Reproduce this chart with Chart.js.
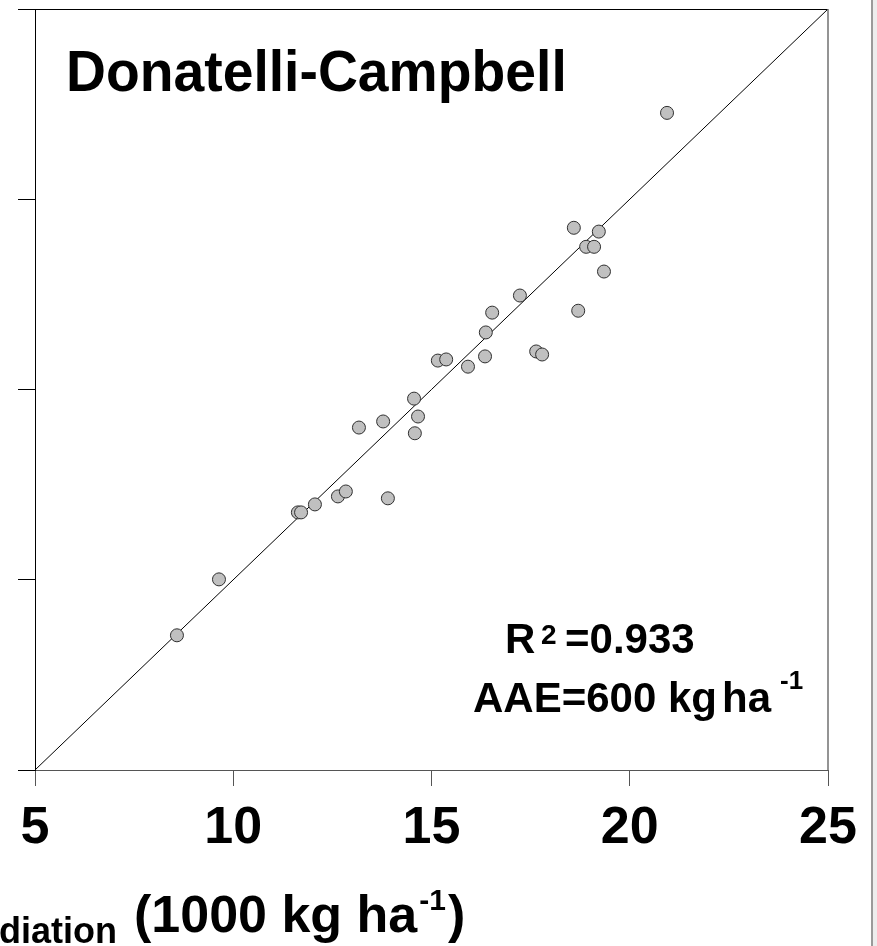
<!DOCTYPE html>
<html>
<head>
<meta charset="utf-8">
<script src="https://cdn.jsdelivr.net/npm/chart.js@4.4.1/dist/chart.umd.min.js"></script>
<style>
  html, body { margin: 0; padding: 0; background: #ffffff; }
  #wrap { width: 877px; height: 946px; position: relative; }
  canvas { display: block; }
</style>
</head>
<body>
<div id="wrap"><canvas id="c" width="877" height="946"></canvas></div>
<script>
// ---- data (1000 kg ha-1) ----
const xValues = [8.58, 9.64, 11.63, 11.71, 12.06, 12.64, 12.84, 13.90, 13.17, 13.78,
                 14.56, 14.66, 14.58, 15.16, 15.37, 15.92, 16.35, 16.37, 16.53, 17.23,
                 17.64, 17.79, 18.70, 18.59, 18.90, 19.10, 19.22, 19.35, 20.94];
const yValues = [8.54, 10.01, 11.77, 11.77, 11.98, 12.19, 12.32, 12.14, 14.00, 14.16,
                 14.76, 14.29, 13.85, 15.76, 15.79, 15.60, 15.87, 16.50, 17.02, 17.47,
                 16.00, 15.92, 17.07, 19.25, 18.75, 18.75, 19.15, 18.10, 22.27];
const lineX = [5, 25];
const lineY = [5, 25];
const xTickLabels = ['5', '10', '15', '20', '25'];
const axisMin = 5, axisMax = 25, axisStep = 5;
const titleText = 'Donatelli-Campbell';
const r2Text = '=0.933';
const aaeText = 'AAE=600 kg';
const xTitleSub = 'radiation';
const xTitleMain = '(1000 kg ha';

const FONT = '"Liberation Sans", Arial, Helvetica, sans-serif';

const points = xValues.map((x, i) => ({ x: x, y: yValues[i] }));
const linePts = lineX.map((x, i) => ({ x: x, y: lineY[i] }));

const decor = {
  id: 'decor',
  beforeDraw(chart) {
    const ctx = chart.ctx;
    ctx.save();
    ctx.fillStyle = '#ffffff';
    ctx.fillRect(0, 0, chart.width, chart.height);
    ctx.fillStyle = '#ededed';
    ctx.fillRect(873, 0, 4, chart.height);
    ctx.strokeStyle = '#9a9a9a';
    ctx.lineWidth = 2;
    ctx.beginPath();
    ctx.moveTo(872, 0);
    ctx.lineTo(872, chart.height);
    ctx.stroke();
    ctx.restore();
  },
  afterDraw(chart) {
    const ctx = chart.ctx;
    const a = chart.chartArea;
    ctx.save();
    // top and right frame
    ctx.strokeStyle = '#000000';
    ctx.lineWidth = 1;
    ctx.beginPath();
    ctx.moveTo(18, a.top + 0.5);
    ctx.lineTo(a.right, a.top + 0.5);
    ctx.stroke();
    ctx.strokeStyle = '#707070';
    ctx.lineWidth = 1.5;
    ctx.beginPath();
    ctx.moveTo(a.right, a.top);
    ctx.lineTo(a.right, a.bottom);
    ctx.stroke();

    ctx.fillStyle = '#000000';
    ctx.textBaseline = 'alphabetic';
    ctx.textAlign = 'left';
    // title
    ctx.save();
    ctx.translate(66, 91);
    ctx.scale(0.97, 1);
    ctx.font = 'bold 57px ' + FONT;
    ctx.fillText(titleText, 0, 0);
    ctx.restore();

    // R2
    ctx.font = 'bold 42px ' + FONT;
    ctx.fillText('R', 505, 653);
    ctx.font = 'bold 28px ' + FONT;
    ctx.fillText('2', 541, 644);
    ctx.font = 'bold 42px ' + FONT;
    ctx.fillText(r2Text, 565, 653);

    // AAE
    ctx.fillText(aaeText, 473, 712);
    ctx.fillText('ha', 722, 712);
    ctx.font = 'bold 26px ' + FONT;
    ctx.fillText('-1', 780, 689);

    // x title
    ctx.font = 'bold 36px ' + FONT;
    ctx.textAlign = 'right';
    ctx.fillText(xTitleSub, 117, 943);
    ctx.textAlign = 'left';
    ctx.font = 'bold 52px ' + FONT;
    ctx.fillText(xTitleMain, 134, 932);
    const w = ctx.measureText(xTitleMain).width;
    ctx.font = 'bold 30px ' + FONT;
    ctx.fillText('-1', 134 + w + 2, 910);
    const w2 = ctx.measureText('-1').width;
    ctx.font = 'bold 52px ' + FONT;
    ctx.fillText(')', 134 + w + w2 + 4, 932);
    ctx.restore();
  }
};

new Chart(document.getElementById('c'), {
  type: 'scatter',
  data: {
    datasets: [
      {
        type: 'line',
        data: linePts,
        borderColor: '#000000',
        borderWidth: 1,
        pointRadius: 0,
        fill: false,
        order: 2
      },
      {
        data: points,
        backgroundColor: '#c0c0c0',
        borderColor: '#303030',
        borderWidth: 1,
        pointRadius: 6.5,
        pointHoverRadius: 6.5,
        order: 1
      }
    ]
  },
  options: {
    responsive: false,
    animation: false,
    devicePixelRatio: 1,
    layout: { padding: { left: 0, top: 9, right: 49, bottom: 0 } },
    plugins: { legend: { display: false }, tooltip: { enabled: false }, title: { display: false } },
    scales: {
      x: {
        type: 'linear',
        min: axisMin, max: axisMax,
        afterFit(scale) { scale.height = 176; },
        afterBuildTicks(scale) { scale.ticks = xTickLabels.map(v => ({ value: Number(v) })); },
        ticks: {
          stepSize: axisStep,
          padding: 11,
          color: '#000000',
          font: { family: FONT, size: 52, weight: 'bold' },
          callback: (v) => xTickLabels[xTickLabels.indexOf(String(v))] ?? ''
        },
        grid: { drawOnChartArea: false, drawTicks: true, tickLength: 16, color: '#555555', lineWidth: 1 },
        border: { display: true, color: '#555555', width: 1 }
      },
      y: {
        type: 'linear',
        min: axisMin, max: axisMax,
        afterFit(scale) { scale.width = 35; },
        ticks: { stepSize: axisStep, display: false },
        grid: { drawOnChartArea: false, drawTicks: true, tickLength: 17, color: '#000000', lineWidth: 1 },
        border: { display: true, color: '#000000', width: 1 }
      }
    }
  },
  plugins: [decor]
});
</script>
</body>
</html>
